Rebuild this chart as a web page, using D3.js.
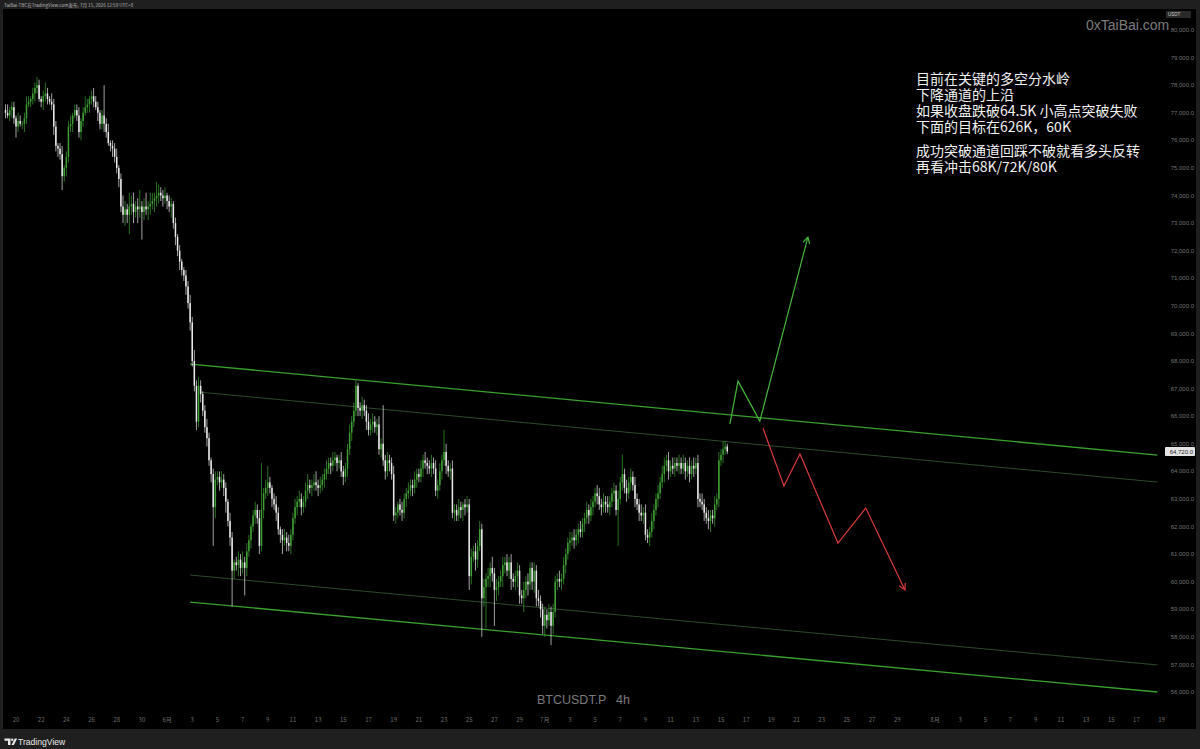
<!DOCTYPE html>
<html><head><meta charset="utf-8">
<script src="https://cdn.jsdelivr.net/npm/d3@7"></script>
<style>
html,body{margin:0;padding:0;background:#1e1e1e;overflow:hidden;}
svg{display:block;}
.note{color:#f2f2f2;font-family:'Noto Sans CJK SC',sans-serif;font-size:14px;line-height:16px;white-space:pre;margin:0;}
.note .para2{margin-top:8px;}
</style></head><body>
<svg id="c" width="1200" height="749"></svg>
<script>
// ---------------- DATA ----------------
// BTCUSDT.P 4h closes (in thousands USDT), first bar = 2026-05-19 04:00
const firstOpenK = 77.1;
const closesK = [
 77.0,76.9,77.1,77.2,76.8,76.5,76.7,76.6,76.6,76.8,
 77.3,77.4,77.5,77.7,77.9,78.0,77.5,77.4,77.6,77.7,77.5,77.4,77.3,76.5,75.8,75.7,75.5,74.7,75.0,75.4,
 76.5,76.6,76.9,77.1,76.9,76.3,76.7,77.0,77.2,77.3,77.5,77.6,77.4,77.2,77.0,76.6,76.9,76.6,76.3,75.9,
 75.8,75.7,75.4,75.0,74.6,73.6,73.3,73.5,73.3,73.6,73.7,73.4,73.6,73.5,73.6,73.4,73.6,73.5,73.6,73.7,
 73.8,73.9,74.0,74.1,74.0,73.9,74.0,73.8,73.6,73.7,73.0,72.5,72.0,71.6,71.3,71.1,70.7,70.1,69.4,68.0,
 67.1,65.8,67.1,66.8,66.2,65.6,65.2,64.4,63.9,62.7,63.7,63.8,63.6,63.7,63.4,62.9,62.2,61.6,60.4,60.7,
 60.6,60.8,60.5,60.7,60.5,61.1,61.5,62.0,62.4,62.6,62.3,61.3,62.6,63.2,63.4,63.6,63.4,63.0,62.8,62.5,
 61.9,61.7,61.5,61.6,61.4,61.3,61.7,62.3,62.7,62.9,63.0,62.7,62.9,63.3,63.5,63.4,63.5,63.6,63.5,63.4,
 63.5,63.7,63.9,64.1,64.3,64.2,64.4,64.5,64.3,64.4,64.0,63.8,64.1,64.8,65.4,65.8,66.2,67.1,66.3,66.2,
 66.4,66.2,65.8,65.5,65.7,65.8,65.6,65.7,64.8,65.0,64.4,64.0,64.4,64.3,63.9,62.4,62.5,62.8,62.6,62.5,
 63.0,63.2,63.3,63.5,63.4,63.7,63.9,63.8,64.1,64.4,64.3,64.2,64.1,64.3,64.1,63.3,63.5,64.0,64.4,64.7,
 64.2,64.0,64.1,62.5,62.6,62.4,62.7,62.6,62.8,62.7,62.8,60.2,60.9,61.1,60.8,61.3,61.9,59.4,59.8,60.1,
 60.2,60.5,60.3,59.7,59.8,60.0,60.2,60.6,60.7,60.4,60.7,60.1,60.0,60.2,60.4,59.5,59.4,59.7,60.0,59.9,
 60.5,60.0,60.4,59.4,59.3,59.0,58.4,58.8,58.6,58.9,58.4,58.9,60.0,60.1,60.0,60.1,60.6,61.0,61.4,61.5,
 61.6,61.5,61.7,61.9,61.8,62.1,62.3,62.6,62.4,62.7,62.9,63.2,63.1,62.8,62.7,62.9,62.8,62.7,62.9,63.2,
 63.3,62.6,63.0,63.6,63.9,63.4,63.2,63.6,63.8,63.5,63.0,62.8,62.5,62.4,62.5,61.7,61.6,61.8,62.2,62.6,
 63.0,63.2,63.6,63.9,64.2,64.4,64.0,64.2,64.1,64.3,64.2,64.3,64.1,64.3,64.0,64.2,63.9,64.2,64.1,64.3,
 63.0,62.9,62.8,62.5,62.3,62.2,62.4,62.3,62.8,63.0,64.4,64.6,64.8,64.9,64.72
];
// upper / lower wick lengths, in units of 100 USDT
const wickUp = [
 2,3,1,2,2,1,3,2,1,2,3,2,1,2,2, 3,2,1,2,4,2,1,3,2,2,1,2,3,1,2,
 2,3,1,2,2,3,1,2,4,2,1,2,3,2,2, 1,2,11,2,3,1,2,2,3,1,2,4,3,2,5,
 3,4,2,3,6,2,3,5,2,4,3,2,5,3,2, 2,3,1,2,2,1,2,1,2,1,1,2,2,3,2,
 4,2,3,2,1,2,3,2,1,2,3,2,2,3,2, 2,1,3,2,1,2,3,2,4,2,3,2,1,2,3,
 2,3,17,2,3,6,2,1,2,3,2,1,2,3,2, 3,2,2,3,2,3,2,2,3,4,2,2,3,4,2,
 3,2,2,3,2,2,3,2,1,2,3,2,2,2,3, 2,3,2,1,2,3,2,2,3,2,3,2,2,3,2,
 14,2,3,2,2,3,2,1,2,3,2,2,3,2,2, 3,2,2,3,2,3,2,2,3,2,3,2,3,2,8,
 3,2,2,3,2,2,3,2,1,2,3,2,3,2,3, 2,3,2,3,2,3,2,4,2,3,2,2,3,2,3,
 2,3,2,2,3,2,2,3,2,3,2,2,3,2,3, 2,2,3,2,3,2,3,2,2,3,2,3,2,2,3,
 2,3,2,2,3,2,2,3,2,3,2,2,3,3,2, 3,2,3,2,2,3,2,3,2,7,2,3,2,3,2,
 3,2,2,3,2,3,2,2,3,2,2,3,2,3,3, 2,3,2,3,2,2,3,2,3,2,2,3,2,3,2,
 3,2,3,2,2,3,2,2,3,2,3,2,3,2,1
];
const wickDn = [
 2,1,2,3,2,4,2,1,2,3,2,1,2,2,3, 2,1,2,3,2,2,1,2,3,2,3,2,5,2,3,
 2,2,3,1,2,2,3,2,1,2,3,2,2,1,3, 2,2,3,2,1,2,3,2,2,3,2,3,4,3,7,
 3,4,2,5,3,10,3,2,4,3,2,4,3,3,2, 3,2,3,2,4,2,3,2,3,2,2,3,2,3,2,
 2,3,2,3,2,2,3,2,3,14,4,2,3,2,3, 4,2,3,13,3,2,4,3,2,10,3,2,3,2,3,
 2,3,2,3,2,3,2,3,2,3,2,3,5,2,3, 2,3,2,2,3,2,3,2,2,3,2,3,2,2,3,
 2,2,3,2,2,3,2,2,3,2,2,3,2,3,2, 3,2,2,3,2,3,2,3,2,2,3,2,3,2,3,
 2,3,2,3,2,2,3,2,2,3,2,3,2,2,3, 2,3,2,2,3,2,3,2,3,2,2,3,2,3,2,
 3,2,3,2,3,2,2,3,4,3,2,5,3,2,4, 3,2,14,3,15,3,4,3,13,4,3,2,4,3,2,
 3,4,2,3,4,3,2,5,3,4,2,3,4,3,2, 3,3,4,3,2,7,3,2,3,2,3,2,3,2,3,
 2,3,2,3,2,2,3,2,3,2,3,2,3,2,3, 2,3,2,3,2,3,2,13,2,3,2,3,2,3,2,
 3,2,3,2,3,2,2,3,2,3,2,3,2,2,3, 2,3,2,2,3,2,3,2,2,3,2,3,2,3,2,
 3,2,2,3,2,3,4,2,3,2,3,2,3,2,1
];
const firstBar = "2026-05-19T04:00";
const barHours = 4;
const lastPrice = 64720;

const priceTicks = [80000,79000,78000,77000,76000,75000,74000,73000,72000,71000,70000,69000,
  68000,67000,66000,65000,64000,63000,62000,61000,60000,59000,58000,57000,56000];
const dateTicks = [
 "2026-05-20","2026-05-22","2026-05-24","2026-05-26","2026-05-28","2026-05-30",
 "2026-06-01","2026-06-03","2026-06-05","2026-06-07","2026-06-09","2026-06-11","2026-06-13","2026-06-15",
 "2026-06-17","2026-06-19","2026-06-21","2026-06-23","2026-06-25","2026-06-27","2026-06-29",
 "2026-07-01","2026-07-03","2026-07-05","2026-07-07","2026-07-09","2026-07-11","2026-07-13","2026-07-15",
 "2026-07-17","2026-07-19","2026-07-21","2026-07-23","2026-07-25","2026-07-27","2026-07-29",
 "2026-08-01","2026-08-03","2026-08-05","2026-08-07","2026-08-09","2026-08-11","2026-08-13","2026-08-15",
 "2026-08-17","2026-08-19"
];
// descending channel (anchor points: time, price)
const upperEdge  = [["2026-06-02T20:00",67890],["2026-08-18T16:00",64590]];
const upperInner = [["2026-06-03T14:40",66870],["2026-08-18T16:00",63610]];
const lowerInner = [["2026-06-02T20:00",60240],["2026-08-18T16:00",56980]];
const lowerEdge  = [["2026-06-02T20:00",59260],["2026-08-18T16:00",56000]];
// projected scenarios
const bullPath = [["2026-07-15T17:00",65710],["2026-07-16T08:30",67270],["2026-07-18T02:00",65820],["2026-07-21T21:40",72490]];
const bearPath = [["2026-07-18T08:00",65570],["2026-07-20T00:00",63470],["2026-07-21T06:30",64630],
                  ["2026-07-24T07:00",61400],["2026-07-26T12:00",62670],["2026-07-29T14:40",59700]];
const noteParagraphs = [
  ["目前在关键的多空分水岭","下降通道的上沿","如果收盘跌破64.5K 小高点突破失败","下面的目标在626K，60K"],
  ["成功突破通道回踩不破就看多头反转","再看冲击68K/72K/80K"]
];
const symbolLabel = ["BTCUSDT.P","4h"];
const headerText = "TaiBai-TBC在TradingView.com发布, 7月 15, 2026 12:59 UTC+8";

// ---------------- CHART ----------------
const W = 1200, H = 749;
const svg = d3.select("#c");
const pT = d3.utcParse("%Y-%m-%dT%H:%M");
const pD = d3.utcParse("%Y-%m-%d");

const x = d3.scaleUtc().domain([pD("2026-05-20"), pD("2026-08-01")]).range([16, 935]);
const y = d3.scaleLinear().domain([56000, 80000]).range([692, 30]);

svg.append("rect").attr("width", W).attr("height", H).attr("fill", "#1f1f1f");
svg.append("rect").attr("x", 3).attr("y", 9).attr("width", 1193).attr("height", 720).attr("fill", "#000");

svg.append("text").attr("x", 4).attr("y", 7.3).attr("fill", "#b8b8b8")
  .attr("font-family", "'Noto Sans CJK SC','Noto Sans',sans-serif").attr("font-size", 4.6).text(headerText);

svg.append("defs").append("clipPath").attr("id", "plot")
  .append("rect").attr("x", 3).attr("y", 9).attr("width", 1155).attr("height", 700);
const plot = svg.append("g").attr("clip-path", "url(#plot)");

// bars
const t0 = pT(firstBar).getTime();
const bars = closesK.map((c, i) => {
  const close = c * 1000;
  const open = i === 0 ? firstOpenK * 1000 : closesK[i - 1] * 1000;
  return {
    t: new Date(t0 + i * barHours * 3600e3),
    open, close,
    high: Math.max(open, close) + wickUp[i] * 100,
    low: Math.min(open, close) - wickDn[i] * 100
  };
});
const UP = "#3f9f35", DOWN = "#e8e8e8";

// channel lines
const line = d3.line().x(d => x(pT(d[0]))).y(d => y(d[1]));
[[upperInner, "#2c4a2a", 1], [lowerInner, "#2c4a2a", 1], [upperEdge, "#3aa02e", 1.3], [lowerEdge, "#3aa02e", 1.3]]
  .forEach(([p, col, w]) => {
    plot.append("path").attr("d", line(p)).attr("stroke", col).attr("stroke-width", w).attr("fill", "none");
  });

const cg = plot.append("g");
cg.selectAll("line.w").data(bars).join("line").attr("class", "w")
  .attr("x1", d => x(d.t)).attr("x2", d => x(d.t))
  .attr("y1", d => y(d.high)).attr("y2", d => y(d.low))
  .attr("stroke", d => d.close >= d.open ? UP : DOWN).attr("stroke-width", 0.7);
cg.selectAll("rect.b").data(bars).join("rect").attr("class", "b")
  .attr("x", d => x(d.t) - 0.75).attr("width", 1.5)
  .attr("y", d => y(Math.max(d.open, d.close)))
  .attr("height", d => Math.max(0.8, Math.abs(y(d.open) - y(d.close))))
  .attr("fill", d => d.close >= d.open ? UP : DOWN);

// projections
function drawArrow(pts, col) {
  plot.append("path").attr("d", line(pts)).attr("stroke", col).attr("stroke-width", 1.2)
    .attr("fill", "none").attr("stroke-linejoin", "miter");
  const n = pts.length;
  const a = [x(pT(pts[n - 2][0])), y(pts[n - 2][1])], b = [x(pT(pts[n - 1][0])), y(pts[n - 1][1])];
  const ang = Math.atan2(b[1] - a[1], b[0] - a[0]), L = 7, s = 0.5;
  const p1 = [b[0] - L * Math.cos(ang - s), b[1] - L * Math.sin(ang - s)];
  const p2 = [b[0] - L * Math.cos(ang + s), b[1] - L * Math.sin(ang + s)];
  plot.append("path").attr("d", d3.line()([p1, b, p2])).attr("stroke", col).attr("stroke-width", 1.2).attr("fill", "none");
}
drawArrow(bullPath, "#47b83c");
drawArrow(bearPath, "#d93b3b");

// price axis
const axisFont = "'Liberation Sans','Noto Sans',sans-serif";
const fmt = d3.format(",.1f");
svg.append("g").selectAll("text").data(priceTicks).join("text")
  .attr("x", 1194).attr("y", d => y(d)).attr("dy", "0.35em").attr("text-anchor", "end")
  .attr("fill", "#747474").attr("font-family", axisFont).attr("font-size", 6).text(d => fmt(d));

// last price label
const lp = svg.append("g");
lp.append("rect").attr("x", 1165).attr("y", y(lastPrice) - 4.5).attr("width", 30).attr("height", 9)
  .attr("rx", 1).attr("fill", "#e4e4e4");
lp.append("text").attr("x", 1193).attr("y", y(lastPrice)).attr("dy", "0.35em").attr("text-anchor", "end")
  .attr("fill", "#1a1a1a").attr("font-family", axisFont).attr("font-size", 6).text(fmt(lastPrice));

// currency tag
svg.append("rect").attr("x", 1166).attr("y", 11).attr("width", 25).attr("height", 7).attr("rx", 1).attr("fill", "#2a2a2a");
svg.append("text").attr("x", 1168).attr("y", 16.3).attr("fill", "#cfcfcf").attr("font-family", axisFont)
  .attr("font-size", 4.5).text("USDT");

// time axis
const monthFmt = d => (d.getUTCDate() === 1 ? (d.getUTCMonth() + 1) + "月" : String(d.getUTCDate()));
svg.append("g").selectAll("text").data(dateTicks.map(pD)).join("text")
  .attr("x", d => x(d)).attr("y", 720).attr("dy", "0.35em").attr("text-anchor", "middle")
  .attr("fill", "#6c6c6c").attr("font-family", "'Noto Sans CJK SC','Liberation Sans',sans-serif")
  .attr("font-size", 6).text(monthFmt);

// watermark
svg.append("text").attr("x", 1086).attr("y", 30).attr("fill", "#7c7c7c")
  .attr("font-family", "'Liberation Sans','Noto Sans',sans-serif").attr("font-size", 14).text("0xTaiBai.com");

// symbol label
const sym = svg.append("text").attr("y", 704).attr("fill", "#7a7a7a")
  .attr("font-family", "'Liberation Sans','Noto Sans',sans-serif").attr("font-size", 12.5);
sym.append("tspan").attr("x", 537).text(symbolLabel[0]);
sym.append("tspan").attr("x", 616).text(symbolLabel[1]);

// note: two text blocks (paragraphs), line breaks inside each
const noteDiv = svg.append("foreignObject").attr("x", 916).attr("y", 70).attr("width", 244).attr("height", 112)
  .append("xhtml:div").attr("class", "note");
noteParagraphs.forEach((p, i) => {
  noteDiv.append("xhtml:div").attr("class", i ? "para2" : null).text(p.join("\n"));
});

// footer logo
const ft = svg.append("g");
ft.append("path").attr("d", "M4.5,738.5 h6 v6.5 h-2.5 v-4.2 h-3.5 z").attr("fill", "#e8e8e8");
ft.append("circle").attr("cx", 12.2).attr("cy", 739.8).attr("r", 1.2).attr("fill", "#e8e8e8");
ft.append("path").attr("d", "M11.5,745 l3.2,-6.5 h2.4 l-3.2,6.5 z").attr("fill", "#e8e8e8");
ft.append("text").attr("x", 18).attr("y", 745).attr("fill", "#e8e8e8")
  .attr("font-family", "'Liberation Sans','Noto Sans',sans-serif").attr("font-size", 8.6).text("TradingView");
</script>
</body></html>
